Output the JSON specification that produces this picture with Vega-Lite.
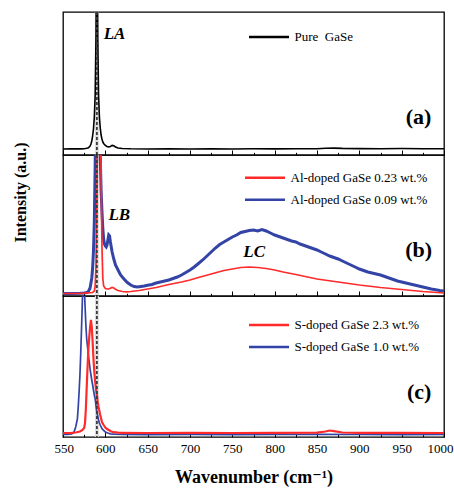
{
"$schema": "https://vega.github.io/schema/vega-lite/v6.json",
"autosize": {"type": "pad"},
"padding": {"left": 11, "top": 9, "right": 0, "bottom": 1},
"spacing": 0,
"bounds": "flush",
"config": {
  "font": "'Liberation Serif', 'DejaVu Serif', serif",
  "view": {"stroke": "black", "strokeWidth": 1.3},
  "axis": {"labelFont": "'Liberation Serif', 'DejaVu Serif', serif", "titleFont": "'Liberation Serif', 'DejaVu Serif', serif", "labelColor": "black", "titleColor": "black", "tickColor": "black", "grid": false, "domain": false},
  "legend": {"labelFont": "'Liberation Serif', 'DejaVu Serif', serif", "labelFontSize": 13, "labelColor": "black", "symbolType": "stroke", "symbolSize": 1600, "symbolStrokeWidth": 2.5, "clipHeight": 22, "rowPadding": 0, "padding": 0, "labelOffset": 4, "title": null, "orient": "none"},
  "text": {"font": "'Liberation Serif', 'DejaVu Serif', serif", "color": "black"}
},
"datasets": {
  "a": [{"x":550,"y":6.0},{"x":560,"y":6.1},{"x":570,"y":6.1},{"x":575,"y":6.3},{"x":578,"y":6.7},{"x":580,"y":7.2},{"x":582,"y":9},{"x":583,"y":11},{"x":584,"y":14},{"x":585,"y":19},{"x":586,"y":26},{"x":587,"y":38},{"x":588,"y":60},{"x":589,"y":120},{"x":590,"y":260},{"x":591,"y":120},{"x":592,"y":60},{"x":593,"y":38},{"x":594,"y":27},{"x":595,"y":20},{"x":596,"y":16},{"x":597,"y":13},{"x":598,"y":11.5},{"x":600,"y":9.5},{"x":602,"y":8.5},{"x":604,"y":8.0},{"x":606,"y":8.6},{"x":608,"y":9.6},{"x":610,"y":9.2},{"x":612,"y":8.0},{"x":615,"y":7.0},{"x":620,"y":6.5},{"x":630,"y":6.2},{"x":650,"y":6.0},{"x":675,"y":6.1},{"x":700,"y":6.0},{"x":725,"y":6.1},{"x":750,"y":6.0},{"x":775,"y":6.2},{"x":800,"y":6.1},{"x":825,"y":6.2},{"x":850,"y":6.3},{"x":860,"y":6.7},{"x":870,"y":6.9},{"x":880,"y":6.6},{"x":900,"y":6.4},{"x":925,"y":6.3},{"x":950,"y":6.5},{"x":975,"y":6.3},{"x":1000,"y":6.2}],
  "b_red": [{"x":550,"y":2.5},{"x":560,"y":2.5},{"x":570,"y":2.6},{"x":575,"y":2.8},{"x":580,"y":3.2},{"x":585,"y":3.5},{"x":587,"y":5},{"x":588,"y":10},{"x":589,"y":30},{"x":590,"y":90},{"x":591,"y":200},{"x":592,"y":250},{"x":593,"y":250},{"x":594,"y":200},{"x":595,"y":120},{"x":596,"y":50},{"x":597,"y":18},{"x":598,"y":10},{"x":600,"y":7.5},{"x":602,"y":7},{"x":604,"y":7},{"x":606,"y":7.8},{"x":608,"y":8.5},{"x":610,"y":8.0},{"x":612,"y":6.8},{"x":615,"y":5.5},{"x":620,"y":4.5},{"x":625,"y":4.2},{"x":630,"y":4.5},{"x":640,"y":5.5},{"x":650,"y":7},{"x":660,"y":8.5},{"x":675,"y":11.5},{"x":690,"y":14},{"x":700,"y":16},{"x":710,"y":18.5},{"x":725,"y":22},{"x":740,"y":25.5},{"x":750,"y":27},{"x":760,"y":28.5},{"x":770,"y":29},{"x":780,"y":28.5},{"x":790,"y":27.5},{"x":800,"y":26},{"x":810,"y":24},{"x":825,"y":21.5},{"x":850,"y":17},{"x":875,"y":14},{"x":900,"y":11},{"x":925,"y":8.5},{"x":950,"y":6.5},{"x":975,"y":4.5},{"x":1000,"y":3}],
  "b_blue": [{"x":550,"y":2.5},{"x":560,"y":2.6},{"x":570,"y":2.7},{"x":575,"y":3},{"x":578,"y":3.5},{"x":580,"y":4.5},{"x":582,"y":8},{"x":584,"y":18},{"x":585,"y":28},{"x":586,"y":45},{"x":587,"y":75},{"x":588,"y":130},{"x":589,"y":220},{"x":590,"y":260},{"x":591,"y":260},{"x":592,"y":250},{"x":593,"y":200},{"x":594,"y":140},{"x":595,"y":105},{"x":596,"y":85},{"x":597,"y":68},{"x":598,"y":57},{"x":599,"y":52},{"x":600,"y":50},{"x":601,"y":49},{"x":602,"y":51},{"x":603,"y":56},{"x":604,"y":61},{"x":605,"y":60},{"x":606,"y":54},{"x":607,"y":49},{"x":608,"y":44},{"x":610,"y":37},{"x":612,"y":31},{"x":615,"y":26},{"x":618,"y":21},{"x":622,"y":17},{"x":626,"y":13.5},{"x":630,"y":11},{"x":634,"y":9.5},{"x":638,"y":9},{"x":642,"y":9.5},{"x":646,"y":10},{"x":650,"y":10.7},{"x":655,"y":11.5},{"x":660,"y":13},{"x":665,"y":14},{"x":670,"y":15},{"x":675,"y":16},{"x":680,"y":17.5},{"x":685,"y":19},{"x":690,"y":21},{"x":695,"y":23.5},{"x":700,"y":26},{"x":705,"y":29},{"x":710,"y":32.5},{"x":715,"y":36},{"x":720,"y":40},{"x":725,"y":44},{"x":730,"y":48},{"x":735,"y":51.5},{"x":740,"y":54},{"x":745,"y":56.5},{"x":750,"y":59},{"x":755,"y":61},{"x":760,"y":63.5},{"x":765,"y":64.5},{"x":770,"y":65.5},{"x":775,"y":66},{"x":780,"y":65},{"x":785,"y":66.5},{"x":790,"y":65},{"x":795,"y":63},{"x":800,"y":61},{"x":805,"y":59.5},{"x":810,"y":58},{"x":815,"y":56.5},{"x":820,"y":55},{"x":825,"y":54},{"x":830,"y":52},{"x":835,"y":50.5},{"x":840,"y":49},{"x":845,"y":47.5},{"x":850,"y":46},{"x":855,"y":44},{"x":860,"y":42},{"x":865,"y":40},{"x":870,"y":38.5},{"x":875,"y":37},{"x":880,"y":35},{"x":885,"y":33},{"x":890,"y":31},{"x":895,"y":29},{"x":900,"y":27},{"x":905,"y":25.5},{"x":910,"y":24},{"x":915,"y":23},{"x":920,"y":22},{"x":925,"y":21},{"x":930,"y":19.5},{"x":935,"y":18},{"x":940,"y":16.5},{"x":945,"y":15},{"x":950,"y":14},{"x":955,"y":13},{"x":960,"y":12},{"x":965,"y":11},{"x":970,"y":10},{"x":975,"y":9},{"x":980,"y":8},{"x":985,"y":7},{"x":990,"y":6.3},{"x":995,"y":5.5},{"x":1000,"y":5}],
  "c_red": [{"x":550,"y":4},{"x":560,"y":4.2},{"x":565,"y":4.5},{"x":570,"y":5.5},{"x":573,"y":7},{"x":575,"y":9},{"x":576,"y":14},{"x":577,"y":28},{"x":578,"y":50},{"x":579,"y":70},{"x":580,"y":88},{"x":581,"y":100},{"x":582,"y":110},{"x":583,"y":117},{"x":584,"y":110},{"x":585,"y":95},{"x":586,"y":78},{"x":587,"y":65},{"x":588,"y":55},{"x":589,"y":48},{"x":590,"y":42},{"x":591,"y":35},{"x":592,"y":30},{"x":593,"y":26},{"x":594,"y":22},{"x":596,"y":15},{"x":598,"y":12},{"x":600,"y":9.5},{"x":602,"y":8},{"x":604,"y":7},{"x":607,"y":5.5},{"x":610,"y":4.8},{"x":615,"y":4.3},{"x":620,"y":4.2},{"x":650,"y":4.0},{"x":700,"y":4.1},{"x":750,"y":4.0},{"x":800,"y":4.2},{"x":850,"y":4.4},{"x":860,"y":5.5},{"x":865,"y":6.5},{"x":870,"y":5.8},{"x":880,"y":4.5},{"x":900,"y":4.2},{"x":950,"y":4.1},{"x":1000,"y":4.0}],
  "c_blue": [{"x":550,"y":2.5},{"x":555,"y":2.5},{"x":560,"y":3},{"x":562,"y":4},{"x":563,"y":5},{"x":565,"y":10},{"x":567,"y":18},{"x":568,"y":30},{"x":569,"y":45},{"x":570,"y":62},{"x":571,"y":85},{"x":572,"y":112},{"x":573,"y":140},{"x":574,"y":165},{"x":575,"y":155},{"x":576,"y":132},{"x":577,"y":112},{"x":578,"y":98},{"x":579,"y":90},{"x":580,"y":82},{"x":581,"y":75},{"x":582,"y":68},{"x":583,"y":62},{"x":584,"y":57},{"x":585,"y":52},{"x":586,"y":47},{"x":587,"y":42},{"x":588,"y":38},{"x":589,"y":31},{"x":590,"y":25},{"x":591,"y":21},{"x":592,"y":17},{"x":593,"y":14},{"x":594,"y":12},{"x":596,"y":8.5},{"x":598,"y":6.5},{"x":600,"y":5},{"x":603,"y":4},{"x":606,"y":3.2},{"x":610,"y":2.8},{"x":620,"y":2.5},{"x":650,"y":2.4},{"x":700,"y":2.5},{"x":750,"y":2.4},{"x":800,"y":2.5},{"x":850,"y":2.6},{"x":900,"y":2.5},{"x":950,"y":2.4},{"x":1000,"y":2.5}]
},
"vconcat": [
 {
  "width": 381, "height": 143,
  "resolve": {"axis": {"x": "independent"}},
  "layer": [
   {"data": {"values": [{}]}, "mark": {"type": "rule", "color": "#dddddd", "strokeWidth": 4},
    "encoding": {"x": {"datum": 590, "type": "quantitative", "scale": {"domain": [550, 1000], "nice": false, "zero": false},
      "axis": {"orient": "bottom", "values": [575,625,675,725,775,825,875,925,975], "labels": false, "tickSize": -2.7, "title": null}}}},
   {"data": {"name": "a"}, "mark": {"type": "line", "clip": true, "strokeWidth": 1.6},
    "encoding": {
     "x": {"field": "x", "type": "quantitative", "axis": {"orient": "bottom", "values": [550,600,650,700,750,800,850,900,950,1000], "labels": false, "tickSize": -5, "title": null}},
     "y": {"field": "y", "type": "quantitative", "scale": {"domain": [0, 143], "nice": false}, "axis": null},
     "color": {"datum": "Pure\u00a0 GaSe", "scale": {"domain": ["Pure\u00a0 GaSe"], "range": ["black"]}, "legend": {"legendX": 184.5, "legendY": 14}}
    }},
   {"data": {"values": [{}]}, "mark": {"type": "rule", "color": "#3a3a3a", "strokeWidth": 1.8, "strokeDash": [3, 2]},
    "encoding": {"x": {"datum": 590, "type": "quantitative", "axis": null}}},
   {"data": {"values": [{}]}, "mark": {"type": "text", "fontSize": 17, "fontWeight": "bold", "fontStyle": "italic", "align": "left", "baseline": "middle"},
    "encoding": {"x": {"datum": 598, "type": "quantitative", "axis": null}, "y": {"datum": 121, "type": "quantitative"}, "text": {"value": "LA"}}},
   {"data": {"values": [{}]}, "mark": {"type": "text", "fontSize": 22, "fontWeight": "bold", "align": "right", "baseline": "middle"},
    "encoding": {"x": {"datum": 985, "type": "quantitative", "axis": null}, "y": {"datum": 38, "type": "quantitative"}, "text": {"value": "(a)"}}}
  ]
 },
 {
  "width": 381, "height": 141,
  "resolve": {"axis": {"x": "independent"}},
  "layer": [
   {"data": {"values": [{}]}, "mark": {"type": "rule", "color": "#dddddd", "strokeWidth": 4},
    "encoding": {"x": {"datum": 590, "type": "quantitative", "scale": {"domain": [550, 1000], "nice": false, "zero": false},
      "axis": {"orient": "bottom", "values": [575,625,675,725,775,825,875,925,975], "labels": false, "tickSize": -2.7, "title": null}}}},
   {"data": {"name": "b_blue"}, "mark": {"type": "line", "clip": true, "strokeWidth": 3},
    "encoding": {
     "x": {"field": "x", "type": "quantitative", "axis": {"orient": "bottom", "values": [550,600,650,700,750,800,850,900,950,1000], "labels": false, "tickSize": -5, "title": null}},
     "y": {"field": "y", "type": "quantitative", "scale": {"domain": [0, 141], "nice": false},
       "axis": {"title": "Intensity (a.u.)", "labels": false, "ticks": false, "titleFontSize": 16, "titleFontWeight": "bold", "titlePadding": 35, "titleY": 37}},
     "color": {"datum": "Al-doped GaSe 0.09 wt.%", "scale": {"domain": ["Al-doped GaSe 0.23 wt.%", "Al-doped GaSe 0.09 wt.%"], "range": ["#ff2b2b", "#3344a6"]}, "legend": {"legendX": 180.5, "legendY": 11.7}}
    }},
   {"data": {"name": "b_red"}, "mark": {"type": "line", "clip": true, "strokeWidth": 1.7},
    "encoding": {
     "x": {"field": "x", "type": "quantitative", "axis": null},
     "y": {"field": "y", "type": "quantitative"},
     "color": {"datum": "Al-doped GaSe 0.23 wt.%"}
    }},
   {"data": {"values": [{}]}, "mark": {"type": "rule", "color": "#3a3a3a", "strokeWidth": 1.8, "strokeDash": [3, 2]},
    "encoding": {"x": {"datum": 590, "type": "quantitative", "axis": null}}},
   {"data": {"values": [{}]}, "mark": {"type": "text", "fontSize": 17, "fontWeight": "bold", "fontStyle": "italic", "align": "left", "baseline": "middle"},
    "encoding": {"x": {"datum": 603.7, "type": "quantitative", "axis": null}, "y": {"datum": 81, "type": "quantitative"}, "text": {"value": "LB"}}},
   {"data": {"values": [{}]}, "mark": {"type": "text", "fontSize": 17, "fontWeight": "bold", "fontStyle": "italic", "align": "left", "baseline": "middle"},
    "encoding": {"x": {"datum": 763, "type": "quantitative", "axis": null}, "y": {"datum": 44, "type": "quantitative"}, "text": {"value": "LC"}}},
   {"data": {"values": [{}]}, "mark": {"type": "text", "fontSize": 22, "fontWeight": "bold", "align": "right", "baseline": "middle"},
    "encoding": {"x": {"datum": 986, "type": "quantitative", "axis": null}, "y": {"datum": 46, "type": "quantitative"}, "text": {"value": "(b)"}}}
  ]
 },
 {
  "width": 381, "height": 141,
  "resolve": {"axis": {"x": "independent"}},
  "layer": [
   {"data": {"values": [{}]}, "mark": {"type": "rule", "color": "#dddddd", "strokeWidth": 4},
    "encoding": {"x": {"datum": 590, "type": "quantitative", "scale": {"domain": [550, 1000], "nice": false, "zero": false},
      "axis": {"orient": "bottom", "values": [575,625,675,725,775,825,875,925,975], "labels": false, "tickSize": -2.7, "title": null}}}},
   {"data": {"name": "c_blue"}, "mark": {"type": "line", "clip": true, "strokeWidth": 1.7},
    "encoding": {
     "x": {"field": "x", "type": "quantitative", "axis": {"orient": "bottom", "values": [550,600,650,700,750,800,850,900,950,1000], "format": "d", "labelFlush": true, "labelFlushOffset": 9, "labelFontSize": 13, "labelPadding": 10, "tickSize": -5, "title": "Wavenumber (cm\u207b\u00b9)", "titleFontSize": 18, "titleFontWeight": "bold", "titlePadding": 13}},
     "y": {"field": "y", "type": "quantitative", "scale": {"domain": [0, 141], "nice": false}, "axis": null},
     "color": {"datum": "S-doped GaSe 1.0 wt.%", "scale": {"domain": ["S-doped GaSe 2.3 wt.%", "S-doped GaSe 1.0 wt.%"], "range": ["#ff2b2b", "#3344a6"]}, "legend": {"legendX": 184.5, "legendY": 18}}
    }},
   {"data": {"name": "c_red"}, "mark": {"type": "line", "clip": true, "strokeWidth": 2.2},
    "encoding": {
     "x": {"field": "x", "type": "quantitative", "axis": null},
     "y": {"field": "y", "type": "quantitative"},
     "color": {"datum": "S-doped GaSe 2.3 wt.%"}
    }},
   {"data": {"values": [{}]}, "mark": {"type": "rule", "color": "#3a3a3a", "strokeWidth": 1.8, "strokeDash": [3, 2]},
    "encoding": {"x": {"datum": 590, "type": "quantitative", "axis": null}}},
   {"data": {"values": [{}]}, "mark": {"type": "text", "fontSize": 22, "fontWeight": "bold", "align": "right", "baseline": "middle"},
    "encoding": {"x": {"datum": 985, "type": "quantitative", "axis": null}, "y": {"datum": 45, "type": "quantitative"}, "text": {"value": "(c)"}}}
  ]
 }
],
"resolve": {"scale": {"color": "independent"}}
}
